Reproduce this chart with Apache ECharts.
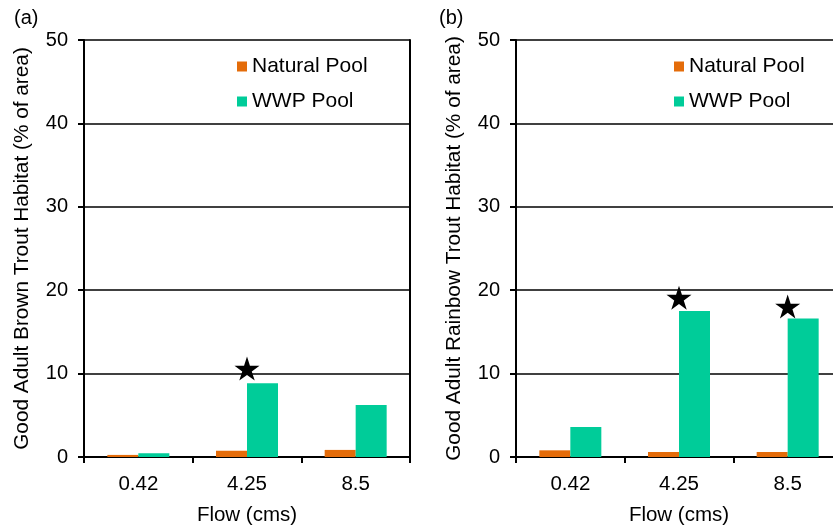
<!DOCTYPE html>
<html><head><meta charset="utf-8">
<script src="https://cdn.jsdelivr.net/npm/echarts@6/dist/echarts.min.js"></script>
<style>html,body{margin:0;padding:0;background:#fff}#c{width:833px;height:527px}</style>
</head><body><div id="c"></div>
<script>
const categories = ['0.42', '4.25', '8.5'];
const yTicks = [0, 10, 20, 30, 40, 50];
const brownNatural = [0.25, 0.75, 0.85];
const brownWWP = [0.45, 8.85, 6.25];
const brownStars = [null, 10.6, null];
const rainbowNatural = [0.8, 0.6, 0.6];
const rainbowWWP = [3.6, 17.5, 16.6];
const rainbowStars = [null, 19.1, 18.05];
const seriesNames = ['Natural Pool', 'WWP Pool'];
const yNames = ['Good Adult Brown Trout Habitat (% of area)', 'Good Adult Rainbow Trout Habitat (% of area)'];
const xName = 'Flow (cms)';
const panelLabels = ['(a)', '(b)'];

const FONT = 'Liberation Sans, Arial, sans-serif';
const ORANGE = '#E46C0A', GREEN = '#00CC99';
const starPath = 'path://M100,0 L122.45,69.1 L195.1,69.1 L136.3,111.8 L158.8,180.9 L100,138.2 L41.2,180.9 L63.7,111.8 L4.9,69.1 L77.55,69.1 Z';

const chart = echarts.init(document.getElementById('c'), null, {renderer: 'canvas'});
const grids = [
  {left: 84, top: 40, width: 326, height: 417, containLabel: false, outerBoundsMode: 'none'},
  {left: 516, top: 40, width: 326, height: 417, containLabel: false, outerBoundsMode: 'none'}
];
const xAxes = [], yAxes = [], series = [];
const data = [[brownNatural, brownWWP, brownStars], [rainbowNatural, rainbowWWP, rainbowStars]];
for (let i = 0; i < 2; i++) {
  xAxes.push({
    type: 'category', gridIndex: i, data: categories,
    name: xName, nameLocation: 'middle', nameGap: 48,
    nameTextStyle: {fontFamily: FONT, fontSize: 20.5, color: '#000'},
    axisLine: {lineStyle: {color: '#000', width: 2}},
    axisTick: {show: true, length: 6, lineStyle: {color: '#000', width: 2}},
    axisLabel: {fontFamily: FONT, fontSize: 20.5, color: '#000', margin: 17},
    splitLine: {show: false}
  });
  yAxes.push({
    type: 'value', gridIndex: i, min: yTicks[0], max: yTicks[yTicks.length - 1], interval: yTicks[1] - yTicks[0],
    name: yNames[i], nameLocation: 'middle', nameGap: 51, nameRotate: 90,
    nameTextStyle: {fontFamily: FONT, fontSize: 20.8, color: '#000'},
    axisLine: {show: true, lineStyle: {color: '#000', width: 2}},
    axisTick: {show: true, length: 6, lineStyle: {color: '#000', width: 2}},
    axisLabel: {fontFamily: FONT, fontSize: 20, color: '#000', margin: 16},
    splitLine: {show: true, lineStyle: {color: '#000', width: 1.6}}
  });
  const d = data[i];
  series.push({
    name: seriesNames[0], type: 'bar', xAxisIndex: i, yAxisIndex: i, data: d[0],
    barWidth: 31, barGap: '0%', itemStyle: {color: ORANGE}, z: 3
  });
  series.push({
    name: seriesNames[1], type: 'bar', xAxisIndex: i, yAxisIndex: i, data: d[1],
    barWidth: 31, barGap: '0%', itemStyle: {color: GREEN}, z: 3
  });
  series.push({
    name: 'star' + i, type: 'scatter', xAxisIndex: i, yAxisIndex: i, data: d[2],
    symbol: starPath, symbolSize: [25, 24], itemStyle: {color: '#000', opacity: 1}, z: 5,
    silent: true
  });
}
// right border for left panel
yAxes.push({
  type: 'value', gridIndex: 0, position: 'right', min: 0, max: 50, interval: 10,
  axisLine: {show: true, lineStyle: {color: '#000', width: 2}},
  axisTick: {show: false}, axisLabel: {show: false}, splitLine: {show: false}
});

const legendCommon = {
  orient: 'vertical', itemWidth: 10, itemHeight: 10, itemGap: 14,
  icon: 'rect', data: seriesNames,
  textStyle: {fontFamily: FONT, fontSize: 21, color: '#000', padding: [0, 0, 0, 0]},
  selectedMode: false
};

chart.setOption({
  animation: false,
  backgroundColor: '#fff',
  grid: grids,
  xAxis: xAxes,
  yAxis: yAxes,
  legend: [
    Object.assign({left: 232, top: 51}, legendCommon),
    Object.assign({left: 669, top: 51}, legendCommon)
  ],
  graphic: [
    {type: 'text', left: 14, top: 8, style: {text: panelLabels[0], font: '20px ' + FONT, fill: '#000'}},
    {type: 'text', left: 439, top: 8, style: {text: panelLabels[1], font: '20px ' + FONT, fill: '#000'}}
  ],
  series: series
});
</script>
</body></html>
